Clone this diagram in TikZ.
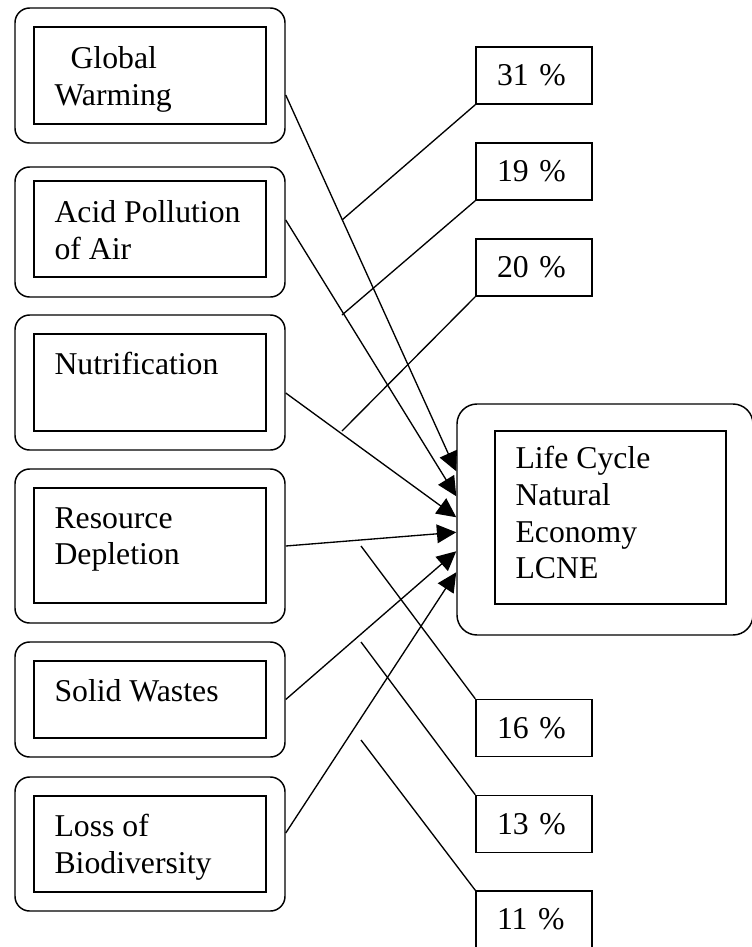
\documentclass[tikz,border=0pt]{standalone}
\usepackage{fontspec}
\setmainfont{Liberation Serif}
\usetikzlibrary{arrows.meta,calc}
\begin{document}
\begin{tikzpicture}[x=0.75pt,y=-0.75pt,
   outerbox/.style={draw,line width=1.1pt,rounded corners=11pt,minimum width=202.5pt,inner sep=0pt},
   innerbox/.style={draw,line width=1.1pt,minimum width=174pt,inner sep=0pt},
   boxtext/.style={anchor=north west,inner sep=0pt,align=left,font=\fontsize{23.8}{27.5}\selectfont},
   pctbox/.style={draw,line width=1.1pt,minimum width=87pt,minimum height=42.75pt,text width=55.5pt,
      inner xsep=15.75pt,inner ysep=0pt,align=left,font=\fontsize{23.8}{27.5}\selectfont},
   link/.style={line width=1pt},
   arr/.style={line width=1pt,-{Triangle[length=14.5pt,width=14pt]}}]
   \useasboundingbox (0,0) rectangle (752,947);
   % impact categories
   \node [outerbox,minimum height=101.25pt] (gw) at (150,75.5) {};
   \node [innerbox,minimum height=72.75pt] (gwin) at (150,75.5) {};
   \node [boxtext] (gwtext) at ($(gwin.north west)+(21,20)$) {\hspace*{12pt}Global\\Warming};
   \node [outerbox,minimum height=97.5pt] (acid) at (150,232) {};
   \node [innerbox,minimum height=72pt] (acidin) at (150,229) {};
   \node [boxtext] (acidtext) at ($(acidin.north west)+(21,20)$) {Acid Pollution\\of Air};
   \node [outerbox,minimum height=101.25pt] (nutr) at (150,382.5) {};
   \node [innerbox,minimum height=72.75pt] (nutrin) at (150,382.5) {};
   \node [boxtext] (nutrtext) at ($(nutrin.north west)+(21,19)$) {Nutrification};
   \node [outerbox,minimum height=115.5pt] (res) at (150,546) {};
   \node [innerbox,minimum height=86.25pt] (resin) at (150,545.5) {};
   \node [boxtext] (restext) at ($(resin.north west)+(21,20)$) {Resource\\Depletion};
   \node [outerbox,minimum height=86.25pt] (solid) at (150,699.5) {};
   \node [innerbox,minimum height=57.75pt] (solidin) at (150,699.5) {};
   \node [boxtext] (solidtext) at ($(solidin.north west)+(21,19)$) {Solid Wastes};
   \node [outerbox,minimum height=100.5pt] (loss) at (150,844) {};
   \node [innerbox,minimum height=72pt] (lossin) at (150,844) {};
   \node [boxtext] (losstext) at ($(lossin.north west)+(21,19)$) {Loss of\\Biodiversity};
   % result
   \node [outerbox,rounded corners=15pt,minimum width=222pt,minimum height=173.25pt] (lcne) at (605,519.5) {};
   \node [innerbox,minimum width=173.25pt,minimum height=129.75pt] (lcnein) at (610.5,517.5) {};
   \node [boxtext] (lcnetext) at ($(lcnein.north west)+(21,16)$) {Life Cycle\\Natural\\Economy\\LCNE};
   % weights
   \node [pctbox] (p31) at (534,75.5) {31 \%};
   \node [pctbox] (p19) at (534,171.5) {19 \%};
   \node [pctbox] (p20) at (534,267.5) {20 \%};
   \node [pctbox] (p16) at (534,728) {16 \%};
   \node [pctbox] (p13) at (534,824) {13 \%};
   \node [pctbox] (p11) at (534,919.5) {11 \%};
   \coordinate (c31) at (342,220);
   \coordinate (c19) at (342,315);
   \coordinate (c20) at (342,431);
   \coordinate (c16) at (361,546);
   \coordinate (c13) at (361,642);
   \coordinate (c11) at (361,740);
   \draw [link] (p31.south west) -- (c31);
   \draw [link] (p19.south west) -- (c19);
   \draw [link] (p20.south west) -- (c20);
   \draw [link] (p16.north west) -- (c16);
   \draw [link] (p13.north west) -- (c13);
   \draw [link] (p11.north west) -- (c11);
   % arrows into LCNE
   \draw [arr] ($(gw.east)+(0,19.5)$) -- ($(lcne.north west)+(0,68)$);
   \draw [arr] ($(acid.east)+(0,-12)$) -- ($(lcne.north west)+(0,93)$);
   \draw [arr] ($(nutr.east)+(0,10.5)$) -- ($(lcne.north west)+(0,114)$);
   \draw [arr] (res.east) -- ($(lcne.north west)+(0,129)$);
   \draw [arr] (solid.east) -- ($(lcne.north west)+(0,148)$);
   \draw [arr] ($(loss.east)+(0,-11)$) -- ($(lcne.north west)+(0,169)$);
\end{tikzpicture}
\end{document}
